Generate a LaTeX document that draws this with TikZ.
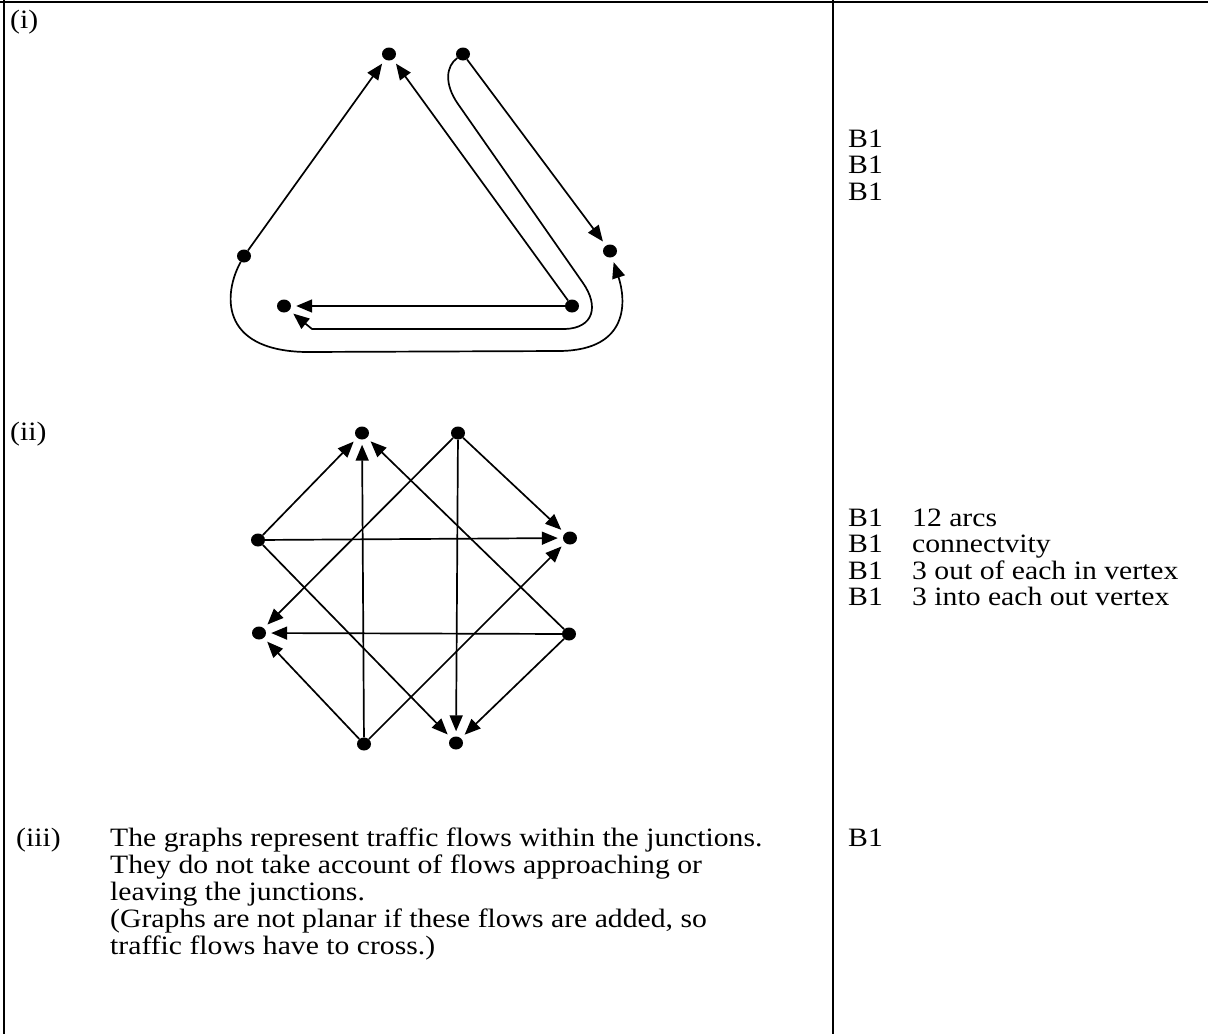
\documentclass[tikz,border=0pt]{standalone}
\usepackage{fontspec}
\setmainfont{Liberation Serif}[FakeStretch=1.12]
\usetikzlibrary{arrows.meta,shapes.geometric}
\tikzset{
  vtx/.style={ellipse, fill=black, inner sep=0pt, minimum width=14pt, minimum height=13pt},
  arr/.style={line width=1.7pt, -{Triangle[length=16pt,width=13pt]}, shorten >=5pt},
  rule/.style={line width=2.4pt},
  txt/.style={anchor=base west, inner sep=0pt, font=\fontsize{26.5}{27}\selectfont}
}
\begin{document}
\begin{tikzpicture}[x=1pt,y=-1pt]
\useasboundingbox (0,0) rectangle (1208,1034);
% table rules
\draw[rule] (0,2) -- (1208,2);
\draw[rule] (4,0) -- (4,1034);
\draw[rule] (833,0) -- (833,1034);

% ---------- (i)
\node[txt] (li) at (10,28) {(i)};
\node[vtx] (A) at (389,54) {};
\node[vtx] (B) at (463,54) {};
\node[vtx] (C) at (610,251) {};
\node[vtx] (D) at (244,256) {};
\node[vtx] (E) at (284,306) {};
\node[vtx] (F) at (572,306) {};
\draw[arr] (D) -- (A);
\draw[arr] (F) -- (A);
\draw[arr] (B) -- (C);
\draw[arr] (F) -- (E);
\draw[arr] (B) .. controls (446,66) and (444,84) .. (458,104) -- (583,283)
  .. controls (599,306) and (594,328) .. (565,329) -- (312,329) -- (E);
\draw[arr] (D) .. controls (224,292) and (218,350) .. (305,352) -- (560,351)
  .. controls (630,350) and (626,300) .. (C);

\node[txt] (r1) at (848,147) {B1};
\node[txt] (r2) at (848,173.5) {B1};
\node[txt] (r3) at (848,200) {B1};

% ---------- (ii)
\node[txt] (lii) at (10,440) {(ii)};
\node[vtx] (T1) at (362,433) {};
\node[vtx] (T2) at (458,433) {};
\node[vtx] (R1) at (570,538) {};
\node[vtx] (L1) at (258,540) {};
\node[vtx] (L2) at (259,633) {};
\node[vtx] (R2) at (569,634) {};
\node[vtx] (BL) at (364,744) {};
\node[vtx] (BR) at (456,743) {};
\draw[arr] (L1) -- (T1);
\draw[arr] (L1) -- (R1);
\draw[arr] (L1) -- (BR);
\draw[arr] (T2) -- (R1);
\draw[arr] (T2) -- (BR);
\draw[arr] (T2) -- (L2);
\draw[arr] (R2) -- (T1);
\draw[arr] (R2) -- (L2);
\draw[arr] (R2) -- (BR);
\draw[arr] (BL) -- (L2);
\draw[arr] (BL) -- (T1);
\draw[arr] (BL) -- (R1);

\node[txt] (s1) at (848,526) {B1};
\node[txt] (s1t) at (912,526) {12 arcs};
\node[txt] (s2) at (848,552.5) {B1};
\node[txt] (s2t) at (912,552.5) {connectvity};
\node[txt] (s3) at (848,579) {B1};
\node[txt] (s3t) at (912,579) {3 out of each in vertex};
\node[txt] (s4) at (848,605.5) {B1};
\node[txt] (s4t) at (912,605.5) {3 into each out vertex};

% ---------- (iii)
\node[txt] (liii) at (16,846) {(iii)};
\node[txt] (p1) at (110,846) {The graphs represent traffic flows within the junctions.};
\node[txt] (p2) at (110,873) {They do not take account of flows approaching or};
\node[txt] (p3) at (110,900) {leaving the junctions.};
\node[txt] (p4) at (110,927) {(Graphs are not planar if these flows are added, so};
\node[txt] (p5) at (110,954) {traffic flows have to cross.)};
\node[txt] (t1) at (848,846) {B1};
\end{tikzpicture}
\end{document}
